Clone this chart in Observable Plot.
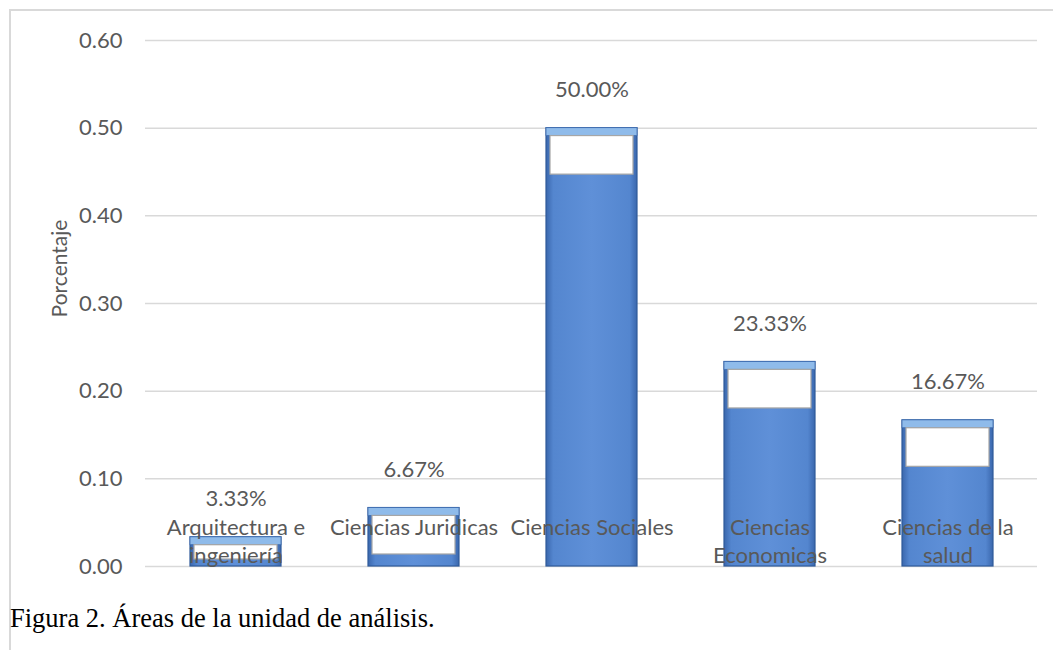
<!DOCTYPE html>
<html>
<head>
<meta charset="utf-8">
<script src="https://cdn.jsdelivr.net/npm/d3@7"></script>
<script src="https://cdn.jsdelivr.net/npm/@observablehq/plot@0.6"></script>
<style>
  html, body { margin: 0; padding: 0; background: #fff; width: 1053px; height: 650px; overflow: hidden; }
  #frame { position: absolute; left: 9px; top: 9px; width: 1044px; height: 641px;
           border-left: 2px solid #d9d9d9; border-top: 2px solid #d9d9d9; box-sizing: border-box; }
  #chart { position: absolute; left: 0; top: 0; }
  #caption { position: absolute; left: 10px; top: 605px; font-family: "Liberation Serif", "Times New Roman", serif;
             font-size: 26.5px; line-height: 1; color: #000; white-space: nowrap; }
</style>
</head>
<body>
<div id="frame"></div>
<div id="chart"></div>
<div id="caption">Figura 2. Áreas de la unidad de análisis.</div>
<script>
const categories = ["Arquitectura e ingeniería", "Ciencias Juridicas", "Ciencias Sociales", "Ciencias Economicas", "Ciencias de la salud"];
const categoryLabels = ["Arquitectura e\ningeniería", "Ciencias Juridicas", "Ciencias Sociales", "Ciencias\nEconomicas", "Ciencias de la\nsalud"];
const values = [0.0333, 0.0667, 0.5, 0.2333, 0.1667];
const yTicks = [0, 0.1, 0.2, 0.3, 0.4, 0.5, 0.6];
const yLabel = "Porcentaje";

const data = categories.map((c, i) => ({category: c, label: categoryLabels[i], value: values[i]}));
const pct = d3.format(".2%");
const font = "Lato, 'Open Sans', sans-serif";
const textColor = "#595959";

const plot = Plot.plot({
  width: 1053,
  height: 595,
  marginTop: 40,
  marginBottom: 29,
  marginLeft: 145,
  marginRight: 16,
  style: {fontFamily: font, background: "transparent", overflow: "visible"},
  x: {domain: categories, paddingInner: 0.49, paddingOuter: 0.245, axis: null},
  y: {domain: [0, 0.6], axis: null},
  marks: [
    Plot.gridY(yTicks, {stroke: "#d9d9d9", strokeOpacity: 1, strokeWidth: 1.5}),
    Plot.axisY(yTicks, {tickSize: 0, tickPadding: 23, fontSize: 22, fill: textColor, tickFormat: d3.format(".2f"), label: null}),
    Plot.barY(data, {x: "category", y: "value", fill: "url(#barGrad)", stroke: "#2f5a9a", strokeWidth: 1.2}),
    Plot.rectY(data, {x: "category", y1: d => d.value, y2: d => Math.max(0, d.value - 0.009), fill: "#8fbbea", stroke: "#3e6cb0", strokeWidth: 0.8}),
    Plot.rectY(data, {x: "category", y1: d => Math.max(0.008, d.value - 0.009), y2: d => Math.max(0.008, d.value - 0.053), fill: "#ffffff", stroke: "#a6a6a6", strokeWidth: 1.2, insetLeft: 4, insetRight: 4}),
    Plot.text(data, {x: "category", y: "value", text: d => pct(d.value), dy: -38, fontSize: 22, fill: textColor}),
    Plot.text(data, {x: "category", frameAnchor: "bottom", text: "label", lineAnchor: "top", lineHeight: 1.3, dy: -52, fontSize: 22, fill: textColor}),
    Plot.text([yLabel], {frameAnchor: "left", textAnchor: "middle", rotate: -90, dx: -85, dy: -35, fontSize: 21, fill: textColor})
  ]
});

const svg = d3.select(plot);
const defs = svg.insert("defs", ":first-child");
const g = defs.append("linearGradient").attr("id", "barGrad").attr("x1", "0").attr("x2", "1").attr("y1", "0").attr("y2", "0");
g.append("stop").attr("offset", "0%").attr("stop-color", "#3a67ad");
g.append("stop").attr("offset", "8%").attr("stop-color", "#5486cf");
g.append("stop").attr("offset", "50%").attr("stop-color", "#5f90d8");
g.append("stop").attr("offset", "92%").attr("stop-color", "#5486cf");
g.append("stop").attr("offset", "100%").attr("stop-color", "#3a67ad");

document.getElementById("chart").appendChild(plot);
</script>
</body>
</html>
